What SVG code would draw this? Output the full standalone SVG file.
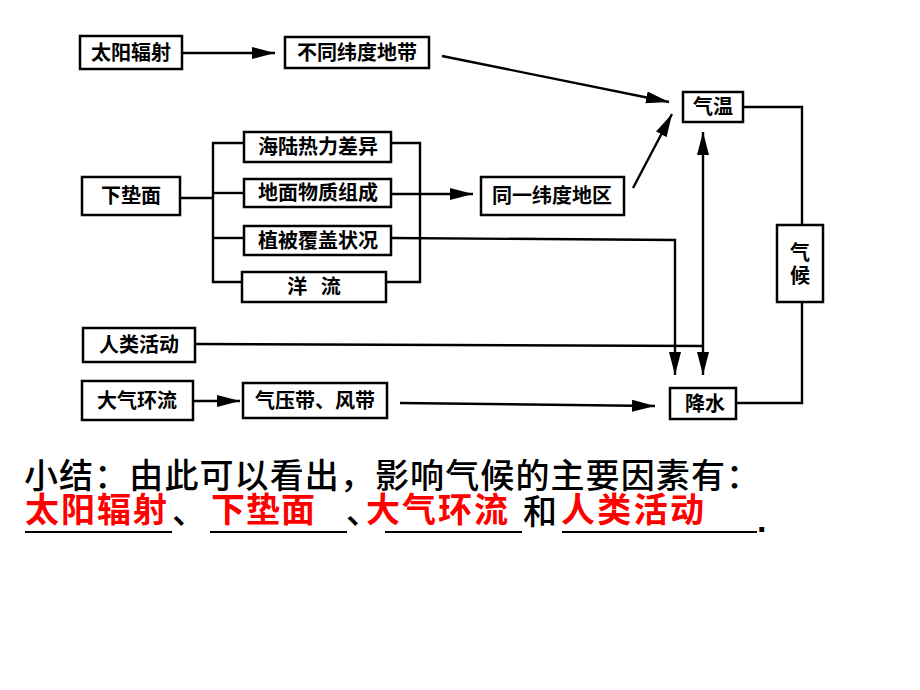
<svg xmlns="http://www.w3.org/2000/svg" width="920" height="690" viewBox="0 0 920 690">
<style>
.box{fill:#fff;stroke:#000;stroke-width:2.5}
.t{font-family:"Noto Sans CJK SC","Liberation Sans",sans-serif;font-size:20px;font-weight:bold;fill:#000;text-anchor:middle}
.ln{fill:none;stroke:#000;stroke-width:2.4}
.sum{font-family:"Noto Sans CJK SC","Liberation Sans",sans-serif;font-size:34px;font-weight:500;fill:#000}
.red{font-family:"Noto Sans CJK SC","Liberation Sans",sans-serif;font-size:34px;font-weight:bold;fill:#ff0000}
.dot{font-family:"Liberation Sans",sans-serif;font-size:34px;font-weight:bold;fill:#000}
.ul{stroke:#000;stroke-width:2}
</style>
<defs>
<marker id="ah" markerUnits="userSpaceOnUse" markerWidth="23" markerHeight="12" refX="23" refY="6" orient="auto-start-reverse">
<path d="M0,0 L23,6 L0,12 z" fill="#000"/>
</marker>
</defs>
<rect width="920" height="690" fill="#fff"/>

<g id="connectors">
<line class="ln" x1="182" y1="53" x2="275" y2="53" marker-end="url(#ah)"/>
<line class="ln" x1="442" y1="56" x2="669" y2="102" marker-end="url(#ah)"/>
<line class="ln" x1="633" y1="188" x2="672" y2="114" marker-end="url(#ah)"/>
<line class="ln" x1="180" y1="198" x2="213" y2="198"/>
<polyline class="ln" points="244,143 213,143 213,282 242,282"/>
<line class="ln" x1="213" y1="193" x2="244" y2="193"/>
<line class="ln" x1="213" y1="238" x2="244" y2="238"/>
<polyline class="ln" points="391,143 420,143 420,282 386,282"/>
<line class="ln" x1="391" y1="194" x2="473" y2="194" marker-end="url(#ah)"/>
<polyline class="ln" points="391,238 675,240 675,375" marker-end="url(#ah)"/>
<line class="ln" x1="703" y1="132" x2="703" y2="375" marker-start="url(#ah)" marker-end="url(#ah)"/>
<line class="ln" x1="195" y1="344" x2="703" y2="346"/>
<line class="ln" x1="193" y1="401" x2="240" y2="401" marker-end="url(#ah)"/>
<line class="ln" x1="400" y1="403" x2="655" y2="406" marker-end="url(#ah)"/>
<polyline class="ln" points="743,107 802,107 802,225"/>
<polyline class="ln" points="802,302 802,403 736,403"/>
</g>

<g id="n_taiyang"><rect class="box" x="80" y="36" width="102" height="33"/><text class="t" x="131" y="60">太阳辐射</text></g>
<g id="n_butong"><rect class="box" x="285" y="37" width="144" height="31"/><text class="t" x="357" y="60">不同纬度地带</text></g>
<g id="n_qiwen"><rect class="box" x="683" y="92" width="60" height="30"/><text class="t" x="713" y="114">气温</text></g>
<g id="n_xiadian"><rect class="box" x="82" y="177" width="98" height="38"/><text class="t" x="131" y="203">下垫面</text></g>
<g id="n_hailu"><rect class="box" x="244" y="132" width="147" height="30"/><text class="t" x="318" y="154">海陆热力差异</text></g>
<g id="n_dimian"><rect class="box" x="244" y="179" width="147" height="28"/><text class="t" x="318" y="200">地面物质组成</text></g>
<g id="n_zhibei"><rect class="box" x="244" y="226" width="147" height="29"/><text class="t" x="318" y="248">植被覆盖状况</text></g>
<g id="n_yangliu"><rect class="box" x="242" y="272" width="144" height="30"/><text class="t" x="314" y="294" xml:space="preserve">洋   流</text></g>
<g id="n_tongyi"><rect class="box" x="481" y="177" width="143" height="38"/><text class="t" x="552" y="203">同一纬度地区</text></g>
<g id="n_renlei"><rect class="box" x="83" y="328" width="112" height="34"/><text class="t" x="139" y="352">人类活动</text></g>
<g id="n_daqi"><rect class="box" x="82" y="381" width="111" height="39"/><text class="t" x="137" y="408">大气环流</text></g>
<g id="n_qiya"><rect class="box" x="243" y="383" width="144" height="35"/><text class="t" x="315" y="408">气压带、风带</text></g>
<g id="n_jiangshui"><rect class="box" x="670" y="388" width="66" height="31"/><text class="t" x="705" y="411">降水</text></g>
<g id="n_qihou"><rect class="box" x="777" y="225" width="46" height="77"/><text class="t" x="800" y="260">气</text><text class="t" x="800" y="283">候</text></g>

<g id="summary">
<text class="sum" x="24" y="488" textLength="736" lengthAdjust="spacing">小结：由此可以看出，影响气候的主要因素有：</text>
<text class="red" x="25" y="522" textLength="142">太阳辐射</text>
<text class="sum" x="172" y="524">、</text>
<text class="red" x="211" y="522" textLength="104">下垫面</text>
<text class="sum" x="346" y="524">、</text>
<text class="red" x="366" y="522" textLength="142">大气环流</text>
<text class="sum" x="523" y="524">和</text>
<text class="red" x="561" y="522" textLength="143">人类活动</text>
<text class="dot" x="757" y="532">.</text>
<line class="ul" x1="25" y1="532" x2="172" y2="532"/>
<line class="ul" x1="210" y1="532" x2="347" y2="532"/>
<line class="ul" x1="385" y1="532" x2="522" y2="532"/>
<line class="ul" x1="562" y1="532" x2="757" y2="532"/>
</g>
</svg>
